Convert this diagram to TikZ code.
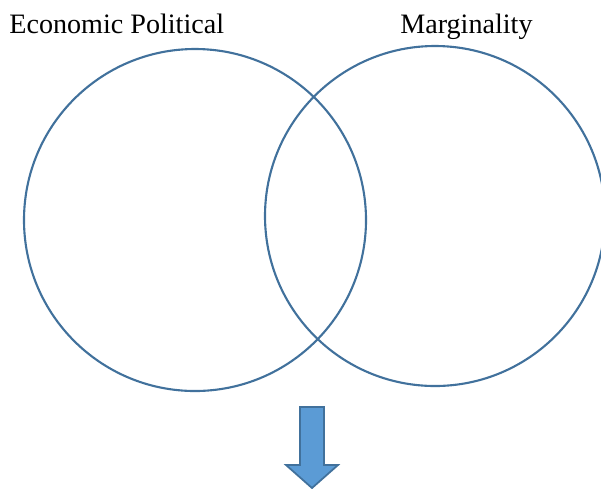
\documentclass[tikz,border=0pt]{standalone}
\usepackage{fontspec}
\setmainfont{Liberation Serif}
\definecolor{ringblue}{RGB}{65,113,156}
\definecolor{arrowblue}{RGB}{91,155,213}

\tikzset{
	ring/.style={draw=ringblue,line width=1.2pt,circle,inner sep=0pt,minimum size=#1},
	tag/.style={font=\fontsize{16}{19}\selectfont,inner sep=0pt,anchor=base west}
}

\begin{document}
\begin{tikzpicture}[x=0.02cm,y=-0.02cm]
				\useasboundingbox (0,0) rectangle (601,488);
				\node[ring=342*0.02cm] (econ) at (195,220) {};
				\node[ring=340*0.02cm] (marg) at (435,216) {};
				\node[tag] (econlabel) at (9,33) {Economic Political};
				\node[tag] (marglabel) at (400,33) {Marginality};
				% downward arrow below the overlap
				\draw[fill=arrowblue,draw=ringblue,line width=1pt,line join=miter]
					(300,407) -- (324,407) -- (324,465) -- (338,465) -- (312,488)
					-- (286,465) -- (300,465) -- cycle;
			\end{tikzpicture}
\end{document}
